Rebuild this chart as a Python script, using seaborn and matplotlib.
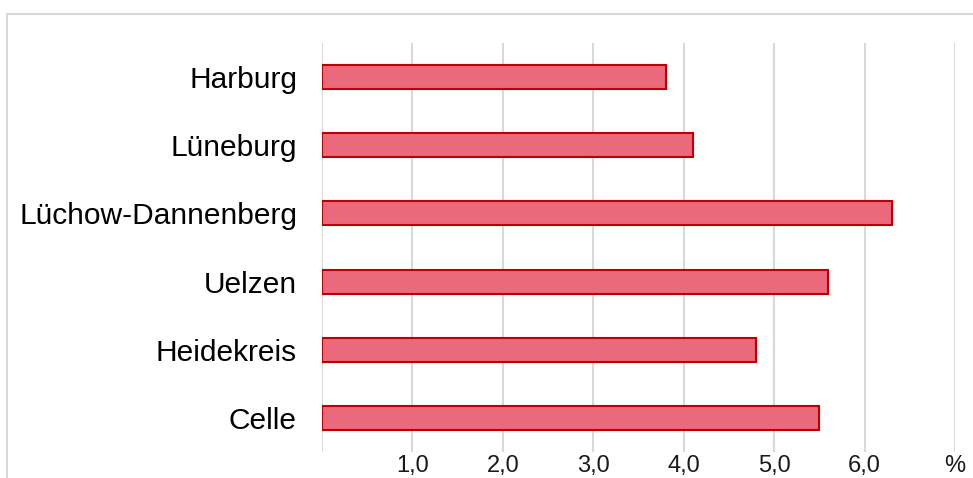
import pandas as pd
import matplotlib.pyplot as plt
import seaborn as sns
from matplotlib.lines import Line2D

kreise = ["Harburg", "Lüneburg", "Lüchow-Dannenberg", "Uelzen", "Heidekreis", "Celle"]
anteil = [3.8, 4.1, 6.3, 5.6, 4.8, 5.5]
tick_pos = [0, 1, 2, 3, 4, 5, 6, 7]
tick_labels = ["", "1,0", "2,0", "3,0", "4,0", "5,0", "6,0", "%"]

df = pd.DataFrame({"kreis": kreise, "anteil": anteil})

sns.set_style("white")
plt.rcParams["font.family"] = ["Liberation Sans", "DejaVu Sans"]

fig = plt.figure(figsize=(9.73, 4.78), dpi=100)
ax = fig.add_axes([322 / 973, 1 - 452 / 478, 633 / 973, 409 / 478])

sns.barplot(data=df, x="anteil", y="kreis", orient="h", ax=ax,
            color="#EA6A7B", saturation=1, width=0.35,
            edgecolor="#C00000", linewidth=1.5)

ax.set_xlim(0, 7)
ax.set_xticks(tick_pos)
ax.set_xticklabels(tick_labels, fontsize=17, color="#1a1a1a")
ax.tick_params(axis="x", length=0, pad=2)
ax.tick_params(axis="y", length=0, pad=18, labelsize=21.5)
for lab in ax.get_yticklabels():
    lab.set_color("#000000")
ax.grid(axis="x", color="#d9d9d9", linewidth=1.5)
ax.set_axisbelow(True)
ax.set_xlabel("")
ax.set_ylabel("")
sns.despine(ax=ax, left=True, bottom=True)

# Rahmen des Diagramms (nur oben und links sichtbar)
fig.add_artist(Line2D([7 / 973, 1.0], [1 - 14 / 478, 1 - 14 / 478],
                      color="#d9d9d9", linewidth=1.5, transform=fig.transFigure))
fig.add_artist(Line2D([7 / 973, 7 / 973], [0.0, 1 - 14 / 478],
                      color="#d9d9d9", linewidth=1.5, transform=fig.transFigure))

fig.savefig("out.png", dpi=100)
plt.close()
